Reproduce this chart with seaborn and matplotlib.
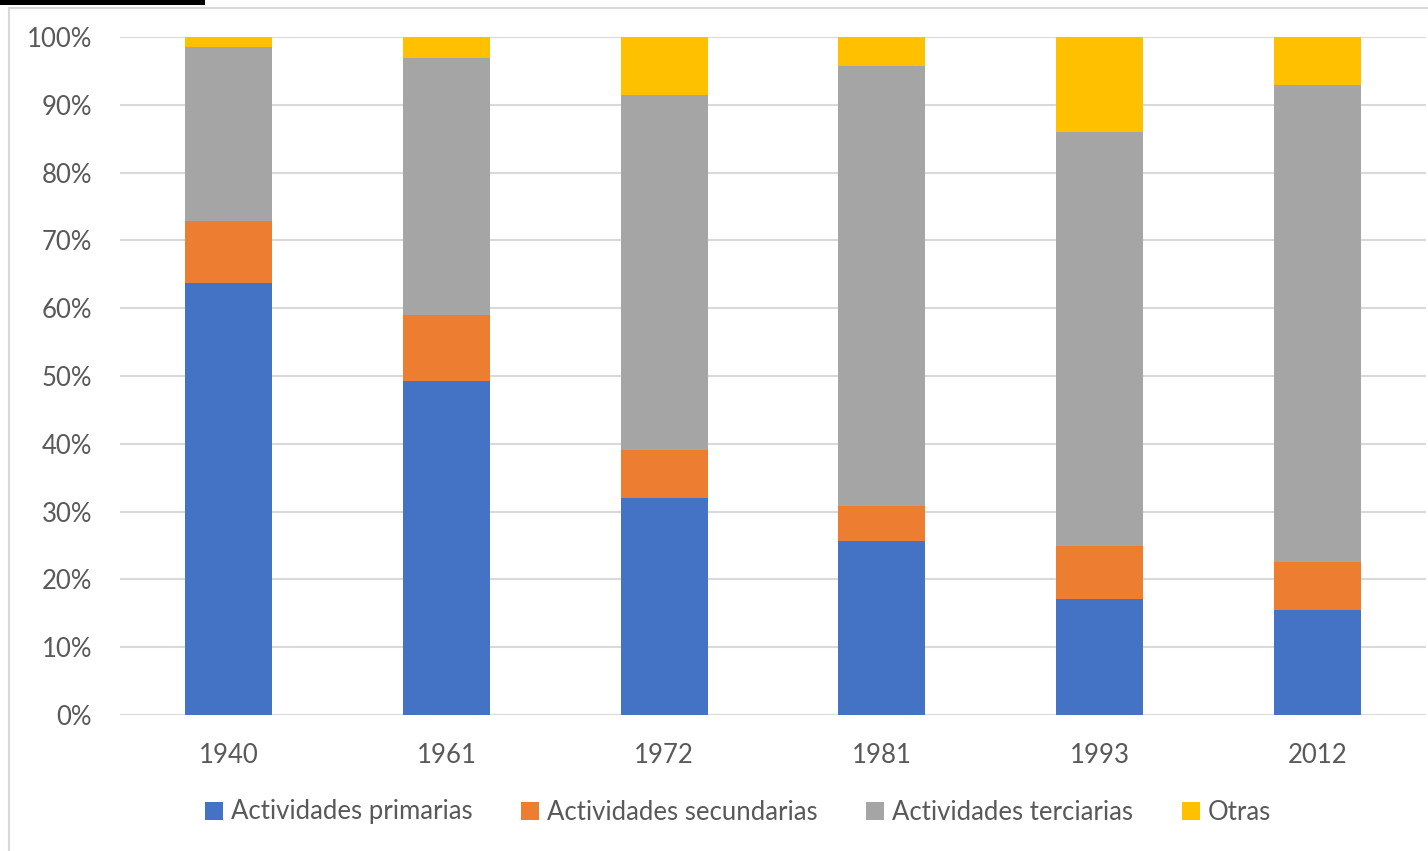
import matplotlib
matplotlib.use("Agg")
import matplotlib.pyplot as plt
import numpy as np
import pandas as pd
import seaborn as sns
from matplotlib.patches import Rectangle, Patch

# data (percent of total)
years = ["1940", "1961", "1972", "1981", "1993", "2012"]
primarias = [63.7, 49.3, 32.0, 25.7, 17.1, 15.5]
secundarias = [9.2, 9.7, 7.1, 5.1, 7.8, 7.1]
terciarias = [25.6, 37.9, 52.3, 64.9, 61.1, 70.3]
otras = [1.5, 3.1, 8.6, 4.3, 14.0, 7.1]

series = ["Actividades primarias", "Actividades secundarias",
          "Actividades terciarias", "Otras"]
colors = ["#4472C4", "#ED7D31", "#A5A5A5", "#FFC000"]

df = pd.DataFrame({"year": years, series[0]: primarias, series[1]: secundarias,
                   series[2]: terciarias, series[3]: otras})
# cumulative tops, so bars can be drawn from the tallest down
cum = df[series].cumsum(axis=1)
cum = 100 * cum.div(cum[series[-1]], axis=0)
cum["year"] = years

sns.set_style("white")
plt.rcParams["font.family"] = ["Lato", "DejaVu Sans"]
txt = "#595959"
fs = 18.5

fig = plt.figure(figsize=(14.28, 8.51), dpi=100)
ax = fig.add_axes([120 / 1428, 1 - 715 / 851, 1306 / 1428, 678 / 851])

for name, col in reversed(list(zip(series, colors))):
    sns.barplot(data=cum, x="year", y=name, color=col, width=0.4,
                saturation=1, ax=ax, zorder=3, edgecolor="none")

ax.set_ylim(0, 100)
ax.set_yticks(np.arange(0, 101, 10))
ax.set_yticklabels([f"{v}%" for v in range(0, 101, 10)])
ax.set_xlabel("")
ax.set_ylabel("")
ax.grid(axis="y", color="#D9D9D9", linewidth=1.5, zorder=0)
ax.set_axisbelow(True)
for s in ax.spines.values():
    s.set_visible(False)
ax.tick_params(axis="y", length=0, pad=20, labelsize=fs, labelcolor=txt)
ax.tick_params(axis="x", length=0, pad=20, labelsize=fs, labelcolor=txt)

handles = [Patch(facecolor=c, edgecolor="none") for c in colors]
fig.legend(handles, series, loc="center", bbox_to_anchor=(738 / 1428, 39 / 851),
           ncol=4, frameon=False, fontsize=fs, labelcolor=txt,
           handlelength=0.7, handleheight=0.7, handletextpad=0.3,
           columnspacing=1.9)

# outer chart frame and the black strip at the top-left
fig.patches.append(Rectangle((9 / 1428, -0.1), 1.2, 1 - 8 / 851 + 0.1,
                             transform=fig.transFigure, fill=False,
                             edgecolor="#D9D9D9", linewidth=1.5))
fig.patches.append(Rectangle((0, 1 - 5 / 851), 205 / 1428, 5 / 851,
                             transform=fig.transFigure, facecolor="black",
                             edgecolor="none"))

fig.savefig("out.png", dpi=100)
